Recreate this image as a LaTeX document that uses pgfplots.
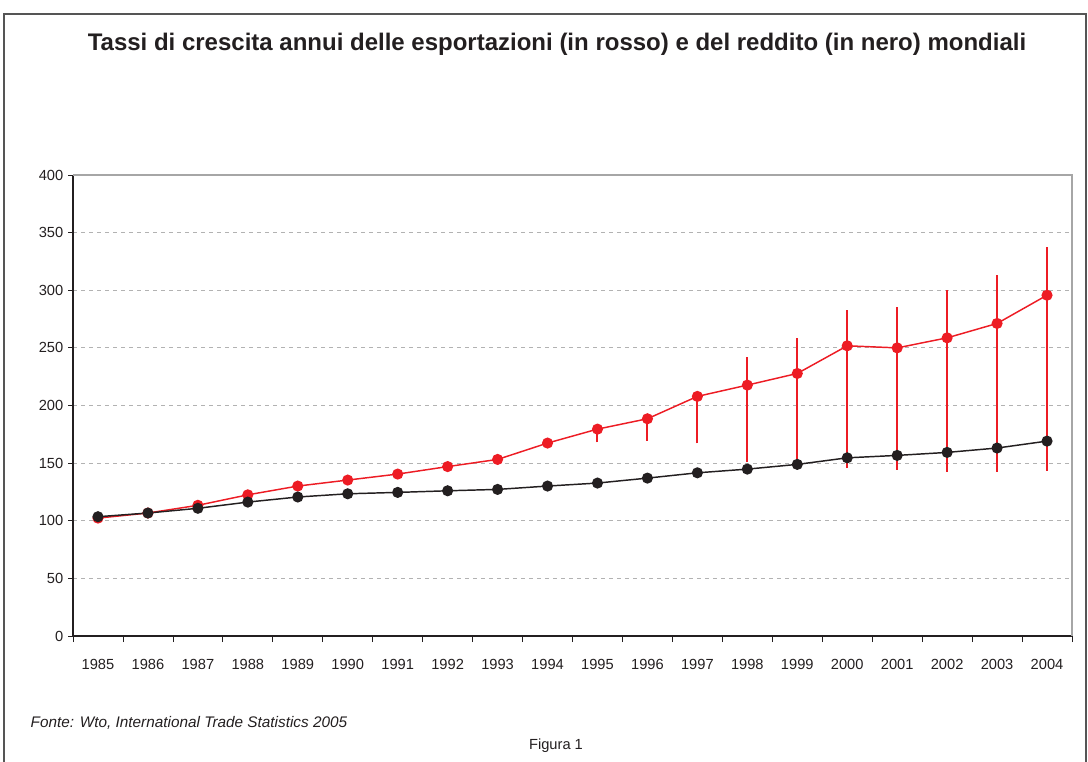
\documentclass[border=0pt]{standalone}
\usepackage{fontspec}
\setmainfont{Liberation Sans}
\usepackage{pgfplots}
\usepackage{pgfplotstable}
\pgfplotsset{compat=1.18}
\definecolor{wtored}{HTML}{ED1C24}
\definecolor{wtoblack}{HTML}{231F20}
\definecolor{framegray}{HTML}{555555}

% r = esportazioni, b = reddito
\pgfplotstableread{
x  r      b
0  102.3  103.5
1  106.7  106.7
2  113.4  110.8
3  122.5  116.2
4  130.1  120.6
5  135.3  123.4
6  140.5  124.6
7  147.0  126.0
8  153.2  127.2
9  167.4  130.1
10 179.5  132.7
11 188.5  137.0
12 207.9  141.6
13 217.7  144.8
14 227.8  148.9
15 251.8  154.6
16 250.0  156.7
17 258.7  159.3
18 271.2  163.1
19 295.7  169.1
}\datatable

% vertical bars on the exports: low and high end of each, nan breaks them apart
\pgfplotstableread{
x  y
10 168.0
10 179.5
10 nan
11 169.4
11 188.5
11 nan
12 167.1
12 207.9
12 nan
13 150.6
13 242.3
13 nan
14 148.0
14 258.5
14 nan
15 145.7
15 283.0
15 nan
16 144.2
16 285.4
16 nan
17 142.5
17 300.5
17 nan
18 142.5
18 313.1
18 nan
19 143.4
19 337.1
}\bartable

\begin{document}
\begin{tikzpicture}
% 1 px = 0.75pt, origin at the top left corner
\useasboundingbox (0,0) rectangle (816pt,-571.5pt);
\draw[framegray, line width=1.2pt] (3pt,-580pt) -- (3pt,-10.5pt) -- (814.5pt,-10.5pt) -- (814.5pt,-580pt);
\node[font=\fontsize{18}{21}\selectfont\bfseries, text=wtoblack] at (417.75pt,-33.5pt)
  {Tassi di crescita annui delle esportazioni (in rosso) e del reddito (in nero) mondiali};
\node[font=\fontsize{11.5}{13}\selectfont\itshape, anchor=west, text=wtoblack] at (19.5pt,-542pt)
  {Fonte: Wto, International Trade Statistics 2005};
\node[font=\fontsize{11}{13}\selectfont, text=wtoblack] at (417pt,-559.5pt) {Figura 1};

\begin{axis}[
    at={(54.75pt,-477pt)}, anchor=south west,
    scale only axis,
    width=749.25pt, height=345.75pt,
    xmin=-0.5, xmax=19.5,
    ymin=0, ymax=400,
    axis x line*=bottom, axis y line*=left,
    axis line style={wtoblack, line width=0.8pt},
    xtick={0,...,19},
    xticklabels={1985,1986,1987,1988,1989,1990,1991,1992,1993,1994,1995,1996,1997,1998,1999,2000,2001,2002,2003,2004},
    minor xtick={-0.5,0.5,...,19.5},
    major x tick style={draw=none},
    minor tick length=4.5pt,
    ytick={0,50,...,400},
    major tick length=3.75pt,
    tick align=outside,
    tick style={wtoblack, line width=0.6pt},
    ymajorgrids,
    grid style={gray!60, dashed, line width=0.6pt},
    ticklabel style={font=\fontsize{11}{13}\selectfont, text=wtoblack},
    xticklabel style={yshift=-10pt},
    /pgf/number format/assume math mode=true,
    unbounded coords=jump,
    clip=false,
]
\draw[gray!70, line width=0.8pt] (rel axis cs:0,1) -- (rel axis cs:1,1) -- (rel axis cs:1,0);
\addplot[wtored, line width=1.5pt, mark=none, forget plot] table[x=x, y=y] {\bartable};
\addplot[wtored, line width=1.1pt, mark=*, mark size=3.6pt,
    mark options={fill=wtored, draw=wtored}]
  table[x=x, y=r] {\datatable};
\addplot[wtoblack, line width=1.1pt, mark=*, mark size=3.6pt,
    mark options={fill=wtoblack, draw=wtoblack}]
  table[x=x, y=b] {\datatable};
\end{axis}
\end{tikzpicture}
\end{document}
